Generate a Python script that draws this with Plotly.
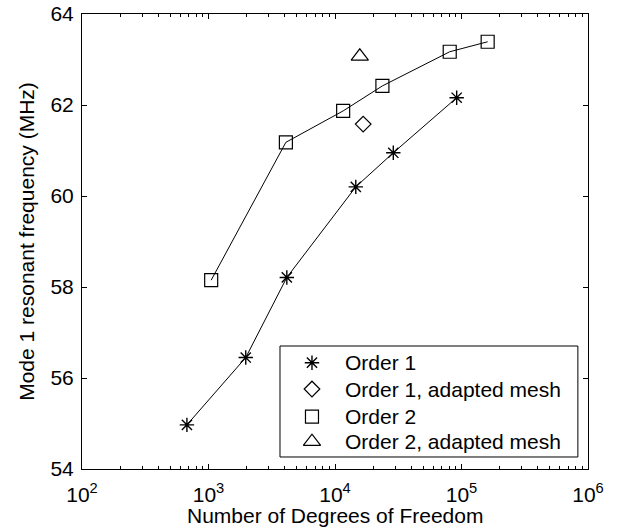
import plotly.graph_objects as go

# ---- data ----
order1_dof = [675, 1970, 4160, 14600, 28900, 91600]
order1_freq = [54.97, 56.45, 58.21, 60.20, 60.95, 62.16]
order1_adapt_dof = [16700]
order1_adapt_freq = [61.58]
order2_dof = [1050, 4090, 11600, 23700, 80700, 161000]
order2_freq = [58.15, 61.18, 61.87, 62.42, 63.17, 63.39]
order2_adapt_dof = [15700]
order2_adapt_freq = [63.07]

x_tickvals = [1e2, 1e3, 1e4, 1e5, 1e6]
x_ticktext = ["10<sup>2</sup>", "10<sup>3</sup>", "10<sup>4</sup>", "10<sup>5</sup>", "10<sup>6</sup>"]
y_tickvals = [54, 56, 58, 60, 62, 64]

legend_names = ["Order 1", "Order 1, adapted mesh", "Order 2", "Order 2, adapted mesh"]
legend_symbols = ["asterisk-open", "diamond-open", "square-open", "triangle-up-open"]
legend_sizes = [12, 12, 13, 15]

FONT = "Liberation Sans, Arial, sans-serif"
FS = 21

fig = go.Figure()

def add(x, y, sym, size, mode):
    fig.add_trace(go.Scatter(
        x=x, y=y, mode=mode,
        line=dict(color="black", width=1),
        marker=dict(symbol=sym, size=size, color="black",
                    line=dict(color="black", width=1.4 if sym.startswith("asterisk") else 1.2)),
        showlegend=False, hoverinfo="x+y"))

add(order1_dof, order1_freq, legend_symbols[0], legend_sizes[0], "lines+markers")
add(order1_adapt_dof, order1_adapt_freq, legend_symbols[1], legend_sizes[1], "markers")
add(order2_dof, order2_freq, legend_symbols[2], legend_sizes[2], "lines+markers")
add(order2_adapt_dof, order2_adapt_freq, legend_symbols[3], legend_sizes[3], "markers")

# ---- custom legend (overlay axes in paper-like units) ----
box_x0, box_x1, box_y0, box_y1 = 0.3913, 0.980, 0.0264, 0.2703
mark_x = 0.4545
text_x = 0.5158
row_y = [0.2336, 0.1758, 0.1149, 0.0600]

for i, name in enumerate(legend_names):
    fig.add_trace(go.Scatter(
        x=[mark_x], y=[row_y[i]], xaxis="x2", yaxis="y2", mode="markers",
        marker=dict(symbol=legend_symbols[i], size=legend_sizes[i], color="black",
                    line=dict(color="black", width=1.4 if i == 0 else 1.2)),
        showlegend=False, hoverinfo="skip"))
    fig.add_annotation(x=text_x, y=row_y[i], xref="paper", yref="paper",
                       text=name, showarrow=False, xanchor="left", yanchor="middle",
                       font=dict(family=FONT, size=FS, color="black"))

fig.add_shape(type="rect", xref="paper", yref="paper",
              x0=box_x0, x1=box_x1, y0=box_y0, y1=box_y1,
              line=dict(color="black", width=1), fillcolor="white", layer="below")

# axis titles
fig.add_annotation(x=0.5, y=-0.072, xref="paper", yref="paper",
                   text="Number of Degrees of Freedom", showarrow=False,
                   xanchor="center", yanchor="top",
                   font=dict(family=FONT, size=FS, color="black"))
fig.add_annotation(x=-0.11, y=0.5, xref="paper", yref="paper",
                   text="Mode 1 resonant frequency (MHz)", showarrow=False,
                   xanchor="center", yanchor="middle", textangle=-90,
                   font=dict(family=FONT, size=FS, color="black"))

fig.update_layout(
    template="none",
    width=619, height=531,
    margin=dict(l=82, r=31, t=14, b=62, pad=0),
    paper_bgcolor="white", plot_bgcolor="white",
    font=dict(family=FONT, size=FS, color="black"),
    showlegend=False,
    xaxis=dict(type="log", range=[2, 6], tickmode="array",
               tickvals=x_tickvals, ticktext=x_ticktext, automargin=False,
               ticks="inside", ticklen=5, tickcolor="black", tickwidth=1,
               ticklabelstandoff=7,
               showline=True, linecolor="black", linewidth=1, mirror="ticks",
               showgrid=False, zeroline=False,
               minor=dict(ticks="inside", ticklen=3, dtick="D1", tickcolor="black", showgrid=False),
               tickfont=dict(family=FONT, size=FS, color="black")),
    yaxis=dict(range=[54, 64], tickmode="array", tickvals=y_tickvals, automargin=False,
               ticks="inside", ticklen=5, tickcolor="black", tickwidth=1,
               ticklabelstandoff=3,
               showline=True, linecolor="black", linewidth=1, mirror="ticks",
               showgrid=False, zeroline=False,
               tickfont=dict(family=FONT, size=FS, color="black")),
    xaxis2=dict(overlaying="x", range=[0, 1], visible=False, fixedrange=True),
    yaxis2=dict(overlaying="y", range=[0, 1], visible=False, fixedrange=True),
)

# remove the browser's default 8px page margin so the figure sits at the window origin
fig.write_html("out.html", config={"displayModeBar": False},
               post_script="document.body.style.margin='0';")
